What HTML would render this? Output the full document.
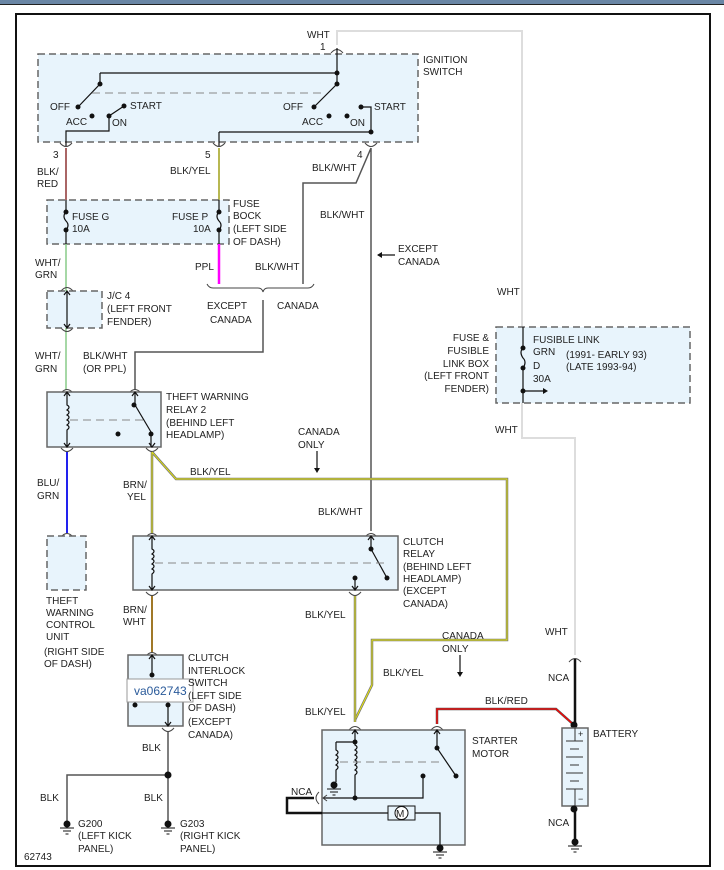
<!DOCTYPE html>
<html><head><meta charset="utf-8"><style>
html,body{margin:0;padding:0;background:#fff}
svg{display:block}
text{font-family:"Liberation Sans",sans-serif;font-size:10px;fill:#222}
.bx{fill:#e8f4fc;stroke:#666;stroke-width:1.5}
.db{fill:#e8f4fc;stroke:#666;stroke-width:1.5;stroke-dasharray:7,4}
.w{fill:none;stroke:#555;stroke-width:1.5}
.k{fill:none;stroke:#111;stroke-width:1.2}
.c{fill:none;stroke:#444;stroke-width:1}
.dash{fill:none;stroke:#888;stroke-width:1;stroke-dasharray:8,5}
</style></head><body>
<svg width="724" height="870" viewBox="0 0 724 870">
<defs>
<g id="cu"><path d="M-6,3 Q0,-4 6,3" class="c"/></g>
<g id="cd"><path d="M-6,-3 Q0,4 6,-3" class="c"/></g>
<g id="gnd"><circle cx="0" cy="0" r="3.5" fill="#111"/><path d="M-7,4H7M-4,7H4M-1.5,10H1.5" stroke="#111" stroke-width="1"/></g>
</defs>
<rect x="0" y="0" width="724" height="4" fill="#6a86a5"/>
<line x1="0" y1="4.5" x2="724" y2="4.5" stroke="#222" stroke-width="1"/>
<rect x="16" y="14" width="694" height="852" fill="none" stroke="#111" stroke-width="2"/>

<!-- WHT wire -->
<path d="M337,45V31H522V438H575V655" fill="none" stroke="#ddd" stroke-width="2"/>

<!-- Ignition switch -->
<rect class="db" x="38" y="54" width="380" height="88"/>
<text x="423" y="63">IGNITION</text><text x="423" y="75">SWITCH</text>
<text x="307" y="38">WHT</text><text x="320" y="50">1</text>
<use href="#cu" x="337" y="50"/>
<path class="k" d="M337,48V84M100,73H337M100,73V84L78,107M337,84L314,107"/>
<path class="k" d="M109,116L124,106M109,116V131H66V146M361,107H371V132M219,132H371M219,132V146"/>
<path class="dash" d="M92,93H325"/>
<g fill="#111"><circle cx="337" cy="73" r="2.5"/><circle cx="337" cy="84" r="2.5"/><circle cx="100" cy="84" r="2.5"/><circle cx="78" cy="107" r="2.5"/><circle cx="92" cy="116" r="2.5"/><circle cx="109" cy="116" r="2.5"/><circle cx="124" cy="106" r="2.5"/><circle cx="314" cy="107" r="2.5"/><circle cx="329" cy="116" r="2.5"/><circle cx="347" cy="116" r="2.5"/><circle cx="361" cy="107" r="2.5"/><circle cx="371" cy="132" r="2.5"/></g>
<text x="50" y="110">OFF</text><text x="66" y="125">ACC</text><text x="112" y="126">ON</text><text x="130" y="109">START</text>
<text x="283" y="110">OFF</text><text x="302" y="125">ACC</text><text x="350" y="126">ON</text><text x="374" y="110">START</text>
<use href="#cd" x="66" y="146"/><use href="#cd" x="219" y="146"/><use href="#cd" x="371" y="146"/>
<text x="53" y="158">3</text><text x="205" y="158">5</text><text x="357" y="158">4</text>

<!-- wires from switch -->
<line x1="66" y1="148" x2="66" y2="244" stroke="#b33" stroke-width="1.5"/>
<line x1="66" y1="148" x2="66" y2="244" stroke="#333" stroke-width="0.5"/>
<text x="37" y="175">BLK/</text><text x="37" y="187">RED</text>
<line x1="219" y1="148" x2="219" y2="244" stroke="#888" stroke-width="2"/><line x1="219" y1="148" x2="219" y2="244" stroke="#ff0" stroke-width="0.8"/>
<text x="170" y="174">BLK/YEL</text>
<path class="w" d="M371,148L356,183H303V284M371,148V531"/>
<text x="312" y="171">BLK/WHT</text><text x="320" y="218">BLK/WHT</text>
<path class="k" d="M395,255H378"/><path d="M377,255l5,-3v6z" fill="#111"/>
<text x="398" y="252">EXCEPT</text><text x="398" y="265">CANADA</text>

<!-- Fuse block -->
<rect class="db" x="47" y="200" width="182" height="44"/>
<path class="k" d="M66,200V212q-4,4 0,9q4,4 0,9V244M219,200V212q-4,4 0,9q4,4 0,9V244"/>
<g fill="#111"><circle cx="66" cy="212" r="2.5"/><circle cx="66" cy="230" r="2.5"/><circle cx="219" cy="212" r="2.5"/><circle cx="219" cy="230" r="2.5"/></g>
<text x="72" y="220">FUSE G</text><text x="72" y="232">10A</text>
<text x="172" y="220">FUSE P</text><text x="193" y="232">10A</text>
<text x="233" y="207">FUSE</text><text x="233" y="219">BOCK</text><text x="233" y="232">(LEFT SIDE</text><text x="233" y="245">OF DASH)</text>

<line x1="66" y1="244" x2="66" y2="390" stroke="#8c8" stroke-width="1.5"/>
<text x="35" y="266">WHT/</text><text x="35" y="278">GRN</text>
<line x1="219" y1="244" x2="219" y2="284" stroke="#f0f" stroke-width="2.5"/>
<text x="195" y="270">PPL</text><text x="255" y="270">BLK/WHT</text>
<path class="c" d="M207,284q2,4 6,4H258q4,0 5,4q1,-4 5,-4H308q4,0 6,-4"/>
<text x="207" y="309">EXCEPT</text><text x="210" y="323">CANADA</text><text x="277" y="309">CANADA</text>
<path class="w" d="M263,300V352H135V390"/>
<text x="83" y="359">BLK/WHT</text><text x="83" y="372">(OR PPL)</text>

<!-- J/C 4 -->
<use href="#cu" x="67" y="288"/><use href="#cd" x="67" y="331"/>
<rect class="db" x="47" y="291" width="55" height="37"/>
<path class="k" d="M67,291V328M64,295l3,-4l3,4M64,324l3,4l3,-4"/>
<text x="107" y="299">J/C 4</text><text x="107" y="312">(LEFT FRONT</text><text x="107" y="325">FENDER)</text>
<text x="35" y="359">WHT/</text><text x="35" y="372">GRN</text>

<!-- Theft relay -->
<use href="#cu" x="67" y="390"/><use href="#cu" x="135" y="390"/>
<rect class="bx" x="47" y="392" width="114" height="55"/>
<path class="k" d="M67,392V405q4,2 0,5q4,2 0,5q4,2 0,5q4,2 0,5q4,2 0,5V447M64,396l3,-4l3,4M64,443l3,4l3,-4"/>
<path class="k" d="M135,392V405L151,432V447M132,396l3,-4l3,4M149,443l3,4l3,-4"/>
<path class="dash" d="M70,420H148"/>
<g fill="#111"><circle cx="134" cy="405" r="2.5"/><circle cx="151" cy="434" r="2.5"/><circle cx="118" cy="434" r="2.5"/></g>
<text x="166" y="400">THEFT WARNING</text><text x="166" y="413">RELAY 2</text><text x="166" y="426">(BEHIND LEFT</text><text x="166" y="438">HEADLAMP)</text>
<use href="#cd" x="67" y="451"/><use href="#cd" x="152" y="451"/>
<line x1="67" y1="452" x2="67" y2="533" stroke="#22e" stroke-width="2"/>
<text x="37" y="486">BLU/</text><text x="37" y="499">GRN</text>
<use href="#cu" x="67" y="534"/>
<rect class="db" x="47" y="536" width="39" height="54"/>
<text x="46" y="604">THEFT</text><text x="46" y="616">WARNING</text><text x="46" y="628">CONTROL</text><text x="46" y="640">UNIT</text><text x="44" y="655">(RIGHT SIDE</text><text x="44" y="667">OF DASH)</text>

<!-- BLK/YEL canada path -->
<path d="M152,452V533M152,452L176,479H507V640H372V685L355,720" fill="none" stroke="#777" stroke-width="2.5"/>
<path d="M152,452V533M152,452L176,479H507V640H372V685L355,720" fill="none" stroke="#ee0" stroke-width="0.9"/>
<text x="123" y="488">BRN/</text><text x="127" y="500">YEL</text>
<text x="190" y="475">BLK/YEL</text>
<text x="298" y="435">CANADA</text><text x="298" y="448">ONLY</text>
<path class="k" d="M317,451V470"/><path d="M317,473l-3,-5h6z" fill="#111"/>

<!-- Clutch relay -->
<use href="#cu" x="152" y="534"/><use href="#cu" x="371" y="534"/>
<rect class="bx" x="133" y="536" width="265" height="54"/>
<path class="k" d="M152,536V549q4,2 0,5q4,2 0,5q4,2 0,5q4,2 0,5q4,2 0,5V590M149,540l3,-4l3,4M149,586l3,4l3,-4"/>
<path class="k" d="M371,536V549L387,578M368,540l3,-4l3,4M355,578V590M352,586l3,4l3,-4"/>
<path class="dash" d="M155,563H385"/>
<g fill="#111"><circle cx="371" cy="549" r="2.5"/><circle cx="387" cy="578" r="2.5"/><circle cx="355" cy="578" r="2.5"/></g>
<text x="318" y="515">BLK/WHT</text>
<text x="403" y="545">CLUTCH</text><text x="403" y="557">RELAY</text><text x="403" y="570">(BEHIND LEFT</text><text x="403" y="582">HEADLAMP)</text><text x="403" y="594">(EXCEPT</text><text x="403" y="607">CANADA)</text>
<use href="#cd" x="152" y="595"/><use href="#cd" x="355" y="595"/>
<line x1="152" y1="596" x2="152" y2="652" stroke="#a07828" stroke-width="2"/>
<text x="123" y="613">BRN/</text><text x="123" y="625">WHT</text>
<line x1="355" y1="596" x2="355" y2="722" stroke="#777" stroke-width="2.5"/><line x1="355" y1="596" x2="355" y2="722" stroke="#ee0" stroke-width="0.9"/>
<text x="305" y="618">BLK/YEL</text><text x="305" y="715">BLK/YEL</text><text x="383" y="676">BLK/YEL</text>
<text x="442" y="639">CANADA</text><text x="442" y="652">ONLY</text>
<path class="k" d="M460,655V674"/><path d="M460,677l-3,-5h6z" fill="#111"/>

<!-- Clutch interlock -->
<use href="#cu" x="152" y="653"/>
<rect class="bx" x="128" y="655" width="55" height="71"/>
<path class="k" d="M152,655V675M149,659l3,-4l3,4M168,705V726M165,722l3,4l3,-4"/>
<g fill="#111"><circle cx="152" cy="675" r="2.5"/><circle cx="135" cy="705" r="2.5"/><circle cx="168" cy="705" r="2.5"/></g>
<rect x="127" y="679" width="66" height="23" fill="#fff" stroke="#999" stroke-width="1"/>
<text x="134" y="695" style="font-size:12px;fill:#2a5a9a">va062743</text>
<text x="188" y="661">CLUTCH</text><text x="188" y="674">INTERLOCK</text><text x="188" y="686">SWITCH</text><text x="188" y="699">(LEFT SIDE</text><text x="188" y="711">OF DASH)</text><text x="188" y="725">(EXCEPT</text><text x="188" y="738">CANADA)</text>
<use href="#cd" x="168" y="731"/>
<path class="w" d="M168,732V822M168,775H67V822" stroke-width="2"/>
<circle cx="168" cy="775" r="3.5" fill="#111"/>
<use href="#gnd" x="67" y="824"/><use href="#gnd" x="168" y="824"/>
<text x="142" y="751">BLK</text><text x="40" y="801">BLK</text><text x="144" y="801">BLK</text>
<text x="78" y="827">G200</text><text x="78" y="839">(LEFT KICK</text><text x="78" y="852">PANEL)</text>
<text x="180" y="827">G203</text><text x="180" y="839">(RIGHT KICK</text><text x="180" y="852">PANEL)</text>
<text x="24" y="860">62743</text>

<!-- Starter -->
<path d="M437,724V709H556L574,725" fill="none" stroke="#555" stroke-width="2.5"/>
<path d="M437,724V709H556L574,725" fill="none" stroke="#f00" stroke-width="1.3"/>
<text x="485" y="704">BLK/RED</text>
<use href="#cu" x="355" y="727"/><use href="#cu" x="437" y="727"/>
<rect class="bx" x="322" y="730" width="143" height="115"/>
<text x="472" y="744">STARTER</text><text x="472" y="757">MOTOR</text>
<path class="k" d="M355,730V745q4,2 0,5q4,2 0,5q4,2 0,5q4,2 0,5q4,2 0,5q4,2 0,5V798M352,734l3,-4l3,4M336,742H355M336,742V750q4,2 0,5q4,2 0,5q4,2 0,5q4,2 0,5V782M323,798H423V776M437,730V748L456,776M434,734l3,-4l3,4M322,813H388M415,813H440V846"/>
<rect x="388" y="806" width="27" height="14" fill="#e8f4fc" stroke="#111" stroke-width="1"/>
<circle cx="401.5" cy="813" r="6.5" fill="#fff" stroke="#111" stroke-width="1"/>
<text x="396" y="817" style="font-size:10px">M</text>
<path class="dash" d="M340,762H440"/>
<g fill="#111"><circle cx="355" cy="742" r="2.5"/><circle cx="355" cy="798" r="2.5"/><circle cx="423" cy="776" r="2.5"/><circle cx="437" cy="748" r="2.5"/><circle cx="456" cy="776" r="2.5"/></g>
<use href="#gnd" x="334" y="785"/><use href="#gnd" x="440" y="848"/>
<path class="c" d="M319,792Q313,798 319,804M327,795l-4,3l4,3"/>
<path d="M314,798H287V813H322" fill="none" stroke="#111" stroke-width="2.5"/>
<text x="291" y="795">NCA</text>

<!-- Battery -->
<use href="#cu" x="575" y="659"/>
<line x1="575" y1="659" x2="575" y2="725" stroke="#111" stroke-width="2.5"/>
<text x="545" y="635">WHT</text><text x="548" y="681">NCA</text>
<circle cx="574" cy="725" r="3.5" fill="#111"/>
<rect class="bx" x="562" y="728" width="26" height="78"/>
<path d="M566,741H583M570,749H579M566,757H583M570,765H579M566,773H583M570,781H579M566,789H583M575,728V741M575,789V806" stroke="#333" stroke-width="1"/>
<text x="578" y="737" style="font-size:9px">+</text><text x="578" y="802" style="font-size:9px">−</text>
<text x="593" y="737">BATTERY</text>
<circle cx="574" cy="809" r="3.5" fill="#111"/>
<line x1="575" y1="809" x2="575" y2="840" stroke="#111" stroke-width="2.5"/>
<use href="#gnd" x="575" y="842"/>
<text x="548" y="826">NCA</text>

<!-- Fusible link -->
<rect class="db" x="496" y="327" width="194" height="76"/>
<path class="k" d="M523,327V348q-4,4 0,10q4,4 0,10V403M523,391H545"/>
<path d="M548,391l-5,-3v6z" fill="#111"/>
<g fill="#111"><circle cx="523" cy="348" r="2.5"/><circle cx="523" cy="368" r="2.5"/><circle cx="523" cy="391" r="2.5"/></g>
<text x="533" y="343">FUSIBLE LINK</text><text x="533" y="355">GRN</text><text x="566" y="358">(1991- EARLY 93)</text>
<text x="533" y="369">D</text><text x="566" y="370">(LATE 1993-94)</text><text x="533" y="382">30A</text>
<g text-anchor="end"><text x="489" y="341">FUSE &amp;</text><text x="489" y="354">FUSIBLE</text><text x="489" y="367">LINK BOX</text><text x="489" y="379">(LEFT FRONT</text><text x="489" y="392">FENDER)</text></g>
<text x="497" y="295">WHT</text><text x="495" y="433">WHT</text>
</svg>
</body></html>
